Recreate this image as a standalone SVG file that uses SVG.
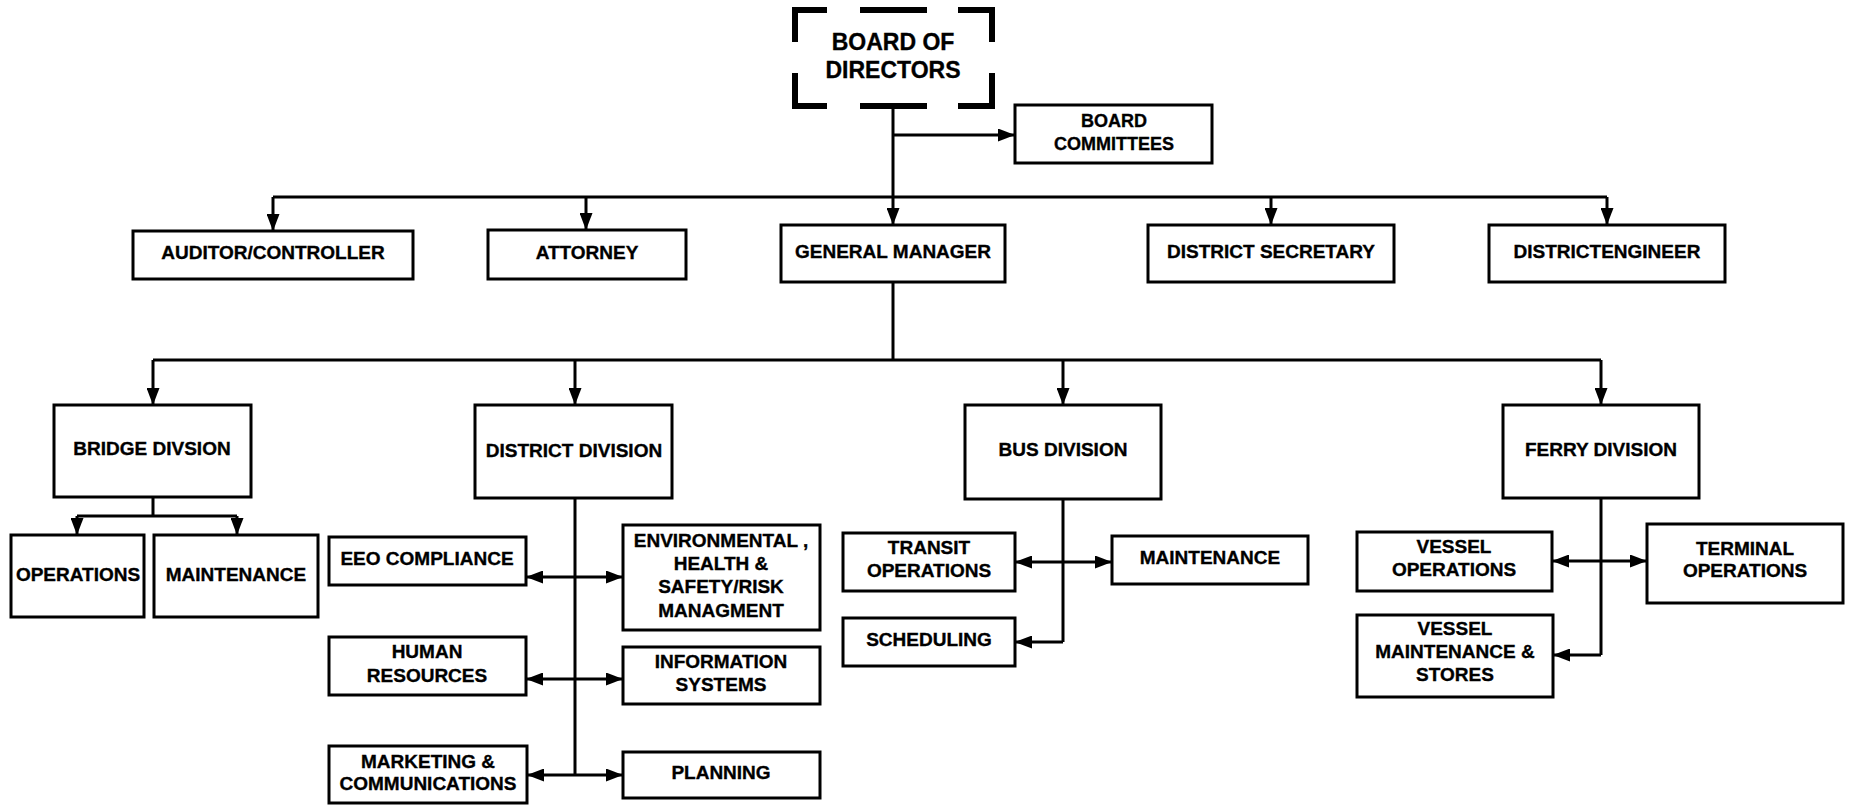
<svg xmlns="http://www.w3.org/2000/svg" width="1856" height="805" viewBox="0 0 1856 805">
<style>
.box{fill:#fff;stroke:#000;stroke-width:3}
.t{font-family:"Liberation Sans",Arial,sans-serif;font-weight:bold;font-size:19px;text-anchor:middle;fill:#000;stroke:#000;stroke-width:0.35}
.ln{fill:none;stroke:#000;stroke-width:3}
.ar{fill:none;stroke:#000;stroke-width:3;marker-end:url(#ah)}
</style>
<defs>
<marker id="ah" markerUnits="userSpaceOnUse" markerWidth="17" markerHeight="13" refX="17" refY="6.5" orient="auto">
<path d="M0,0 L17,6.5 L0,13 Z" fill="#000"/>
</marker>
</defs>
<rect width="1856" height="805" fill="#fff"/>
<g id="connectors">
<path class="ln" d="M893,107 V197"/>
<path class="ar" d="M893,135 H1015"/>
<path class="ln" d="M273,197 H1607"/>
<path class="ar" d="M273,197 V231"/>
<path class="ar" d="M586,197 V230"/>
<path class="ar" d="M893,197 V225"/>
<path class="ar" d="M1271,197 V225"/>
<path class="ar" d="M1607,197 V225"/>
<path class="ln" d="M893,282 V360"/>
<path class="ln" d="M153,360 H1601"/>
<path class="ar" d="M153,360 V405"/>
<path class="ar" d="M575,360 V405"/>
<path class="ar" d="M1063,360 V405"/>
<path class="ar" d="M1601,360 V405"/>
<path class="ln" d="M153,497 V516 M77,516 H237"/>
<path class="ar" d="M77,516 V535"/>
<path class="ar" d="M237,516 V535"/>
<path class="ln" d="M575,498 V775"/>
<path class="ar" d="M575,577 H526"/>
<path class="ar" d="M575,577 H623"/>
<path class="ar" d="M575,679 H526"/>
<path class="ar" d="M575,679 H623"/>
<path class="ar" d="M575,775 H527"/>
<path class="ar" d="M575,775 H623"/>
<path class="ln" d="M1063,499 V642"/>
<path class="ar" d="M1063,562 H1015"/>
<path class="ar" d="M1063,562 H1112"/>
<path class="ar" d="M1063,642 H1015"/>
<path class="ln" d="M1601,498 V655"/>
<path class="ar" d="M1601,561 H1552"/>
<path class="ar" d="M1601,561 H1647"/>
<path class="ar" d="M1601,655 H1553"/>
</g>
<g id="board">
<path d="M795,42 V10 H827 M860,10 H927 M958,10 H992 V42 M992,73 V106 H958 M927,106 H860 M827,106 H795 V73" fill="none" stroke="#000" stroke-width="6"/>
<text class="t" x="893" y="50" style="font-size:23px">BOARD OF</text>
<text class="t" x="893" y="78" style="font-size:23px">DIRECTORS</text>
</g>
<g id="committees">
<rect class="box" x="1015" y="105" width="197" height="58"/>
<text class="t" x="1114" y="127" style="font-size:18px">BOARD</text>
<text class="t" x="1114" y="150" style="font-size:18px">COMMITTEES</text>
</g>
<g id="auditor">
<rect class="box" x="133" y="231" width="280" height="48"/>
<text class="t" x="273" y="259">AUDITOR/CONTROLLER</text>
</g>
<g id="attorney">
<rect class="box" x="488" y="230" width="198" height="49"/>
<text class="t" x="587" y="259">ATTORNEY</text>
</g>
<g id="gm">
<rect class="box" x="781" y="225" width="224" height="57"/>
<text class="t" x="893" y="258">GENERAL MANAGER</text>
</g>
<g id="secretary">
<rect class="box" x="1148" y="225" width="246" height="57"/>
<text class="t" x="1271" y="258">DISTRICT SECRETARY</text>
</g>
<g id="engineer">
<rect class="box" x="1489" y="225" width="236" height="57"/>
<text class="t" x="1607" y="258">DISTRICTENGINEER</text>
</g>
<g id="bridge">
<rect class="box" x="54" y="405" width="197" height="92"/>
<text class="t" x="152" y="455">BRIDGE DIVSION</text>
</g>
<g id="district">
<rect class="box" x="475" y="405" width="197" height="93"/>
<text class="t" x="574" y="457">DISTRICT DIVISION</text>
</g>
<g id="bus">
<rect class="box" x="965" y="405" width="196" height="94"/>
<text class="t" x="1063" y="456">BUS DIVISION</text>
</g>
<g id="ferry">
<rect class="box" x="1503" y="405" width="196" height="93"/>
<text class="t" x="1601" y="456">FERRY DIVISION</text>
</g>
<g id="bridge-ops">
<rect class="box" x="11" y="535" width="133" height="82"/>
<text class="t" x="78" y="581">OPERATIONS</text>
</g>
<g id="bridge-maint">
<rect class="box" x="154" y="535" width="164" height="82"/>
<text class="t" x="236" y="581">MAINTENANCE</text>
</g>
<g id="eeo">
<rect class="box" x="329" y="537" width="197" height="48"/>
<text class="t" x="427" y="565">EEO COMPLIANCE</text>
</g>
<g id="env">
<rect class="box" x="623" y="525" width="197" height="105"/>
<text class="t" x="721" y="547">ENVIRONMENTAL ,</text>
<text class="t" x="721" y="570">HEALTH &amp;</text>
<text class="t" x="721" y="593">SAFETY/RISK</text>
<text class="t" x="721" y="617">MANAGMENT</text>
</g>
<g id="hr">
<rect class="box" x="329" y="637" width="197" height="58"/>
<text class="t" x="427" y="658">HUMAN</text>
<text class="t" x="427" y="682">RESOURCES</text>
</g>
<g id="is">
<rect class="box" x="623" y="647" width="197" height="57"/>
<text class="t" x="721" y="668">INFORMATION</text>
<text class="t" x="721" y="691">SYSTEMS</text>
</g>
<g id="marketing">
<rect class="box" x="329" y="746" width="198" height="57"/>
<text class="t" x="428" y="768">MARKETING &amp;</text>
<text class="t" x="428" y="790">COMMUNICATIONS</text>
</g>
<g id="planning">
<rect class="box" x="623" y="752" width="197" height="46"/>
<text class="t" x="721" y="779">PLANNING</text>
</g>
<g id="transit">
<rect class="box" x="843" y="533" width="172" height="58"/>
<text class="t" x="929" y="554">TRANSIT</text>
<text class="t" x="929" y="577">OPERATIONS</text>
</g>
<g id="bus-maint">
<rect class="box" x="1112" y="536" width="196" height="48"/>
<text class="t" x="1210" y="564">MAINTENANCE</text>
</g>
<g id="scheduling">
<rect class="box" x="843" y="618" width="172" height="48"/>
<text class="t" x="929" y="646">SCHEDULING</text>
</g>
<g id="vessel-ops">
<rect class="box" x="1357" y="532" width="195" height="59"/>
<text class="t" x="1454" y="553">VESSEL</text>
<text class="t" x="1454" y="576">OPERATIONS</text>
</g>
<g id="terminal">
<rect class="box" x="1647" y="524" width="196" height="79"/>
<text class="t" x="1745" y="555">TERMINAL</text>
<text class="t" x="1745" y="577">OPERATIONS</text>
</g>
<g id="vessel-maint">
<rect class="box" x="1357" y="615" width="196" height="82"/>
<text class="t" x="1455" y="635">VESSEL</text>
<text class="t" x="1455" y="658">MAINTENANCE &amp;</text>
<text class="t" x="1455" y="681">STORES</text>
</g>
</svg>
